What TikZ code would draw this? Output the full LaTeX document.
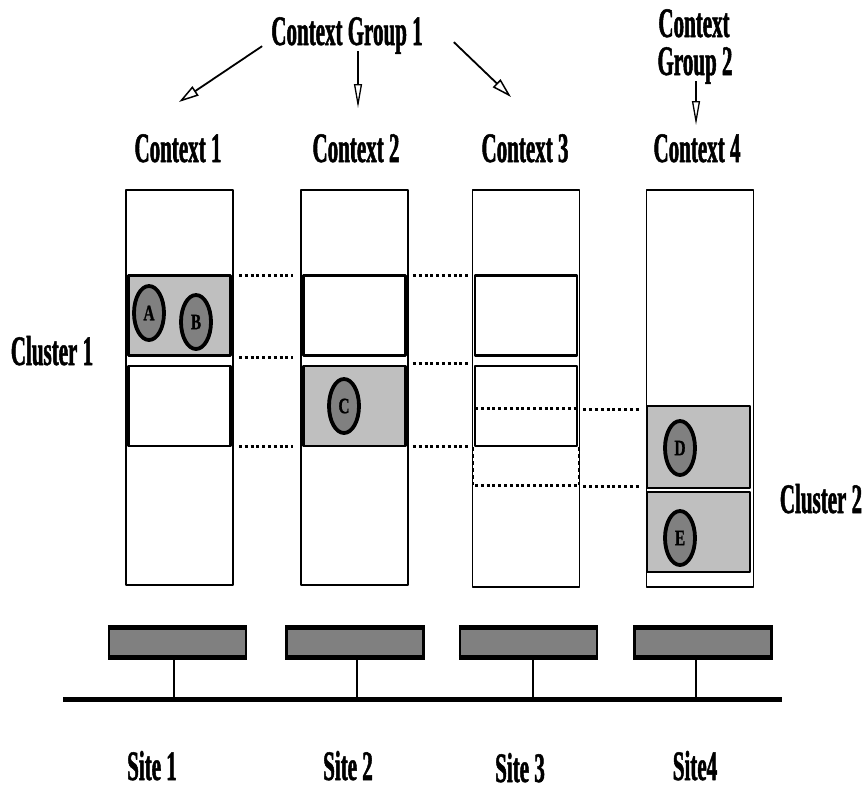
\documentclass[tikz,border=0pt]{standalone}
\usepackage{fontspec}
\newfontfamily\condfont{Liberation Serif}[FakeStretch=0.5,BoldFeatures={FakeBold=1.2}]
\newfontfamily\letfont{Liberation Serif}[FakeStretch=0.7,BoldFeatures={FakeBold=1}]
\usetikzlibrary{shapes.geometric,arrows.meta,calc,positioning}

\begin{document}
\begin{tikzpicture}[x=1pt,y=-1pt,line join=round,
  lbl/.style={font=\condfont\bfseries\fontsize{42}{42}\selectfont,inner sep=0pt,anchor=base},
  colbox/.style={draw,line width=1.8pt,minimum width=107pt,inner sep=0pt},
  cellbox/.style={draw,line width=2.5pt,minimum width=102pt,minimum height=80pt,inner sep=0pt},
  busy/.style={cellbox,fill=black!25},
  obj/.style={ellipse,draw,line width=3.8pt,fill=black!50,minimum width=30pt,minimum height=54pt,inner sep=0pt,font=\letfont\bfseries\fontsize{22}{22}\selectfont},
  sitebox/.style={draw,line width=2.5pt,fill=black!50,minimum width=137pt,minimum height=29pt,inner sep=0pt},
  link/.style={line width=3pt,dash pattern=on 3pt off 2.8pt},
  arr/.style={line width=1.8pt,-{Triangle[open,length=20pt,width=11pt,line width=1.5pt]}},
  varr/.style={line width=1.5pt,-{Triangle[open,length=24pt,width=8pt,line width=1.3pt]}}]
\useasboundingbox (0,0) rectangle (864,790);
% contexts
\foreach \n/\x/\h in {1/179.5/395,2/354.5/395,3/526/397,4/700/397}
  \node[colbox,minimum height=\h pt] (col\n) at (\x,{190+\h/2}) {};
\node[busy] (c1a) at (179.5,315.5) {};
\node[cellbox] (c1b) at (179.5,406) {};
\node[cellbox] (c2a) at (354.5,315.5) {};
\node[busy] (c2b) at (354.5,406) {};
\node[cellbox] (c3a) at (526,315.5) {};
\node[cellbox] (c3b) at (526,406) {};
\node[busy,minimum width=103pt,minimum height=82pt] (c4a) at (698.5,447) {};
\node[busy,minimum width=103pt] (c4b) at (698.5,532) {};
% replica in context 3
\draw[link] (475,408) -- (577,408) (475,485) -- (577,485);
\draw[line width=1.2pt,dash pattern=on 4pt off 3pt] (c3b.south west) -- (c3b.south west |- 0,485) (c3b.south east) -- (c3b.south east |- 0,485);
% objects
\node[obj] (objA) at (149,313) {A};
\node[obj] (objB) at (196,322) {B};
\node[obj] (objC) at (344,406) {C};
\node[obj] (objD) at (680,448) {D};
\node[obj] (objE) at (680,538) {E};
% dotted links
\foreach \y in {275,357,446}
  \draw[link] ($(col1.east |- 0,\y)+(5,0)$) -- ($(col2.west |- 0,\y)+(-7,0)$);
\foreach \y in {275,363,446}
  \draw[link] ($(col2.east |- 0,\y)+(4,0)$) -- ($(col3.west |- 0,\y)+(-4,0)$);
\foreach \y in {409,486}
  \draw[link] ($(col3.east |- 0,\y)+(3,0)$) -- ($(col4.west |- 0,\y)+(-7,0)$);
% sites and network
\coordinate (busL) at (63,699);
\coordinate (busR) at (782,699);
\draw[line width=5pt] (busL) -- (busR);
\foreach \n/\x/\s in {1/177.5/174,2/355/357,3/528.5/533,4/703/696}{
  \node[sitebox] (site\n) at (\x,642.5) {};
  \draw[line width=5pt] ([yshift=-1pt]site\n.north west) -- ([yshift=-1pt]site\n.north east)
    ([yshift=1pt]site\n.south west) -- ([yshift=1pt]site\n.south east);
  \draw[line width=2pt] (site\n.south -| \s,0) -- (busL -| \s,0);
}
% labels
\node[lbl] (grp1) at (347,45) {Context Group 1};
\node[lbl] (grp2a) at (694,37) {Context};
\node[lbl] (grp2b) at (695,75) {Group 2};
\node[lbl] (ctx1) at (178,162) {Context 1};
\node[lbl] (ctx2) at (356,162) {Context 2};
\node[lbl] (ctx3) at (525,162) {Context 3};
\node[lbl] (ctx4) at (697,162) {Context 4};
\node[lbl] (clu1) at (52,365) {Cluster 1};
\node[lbl] (clu2) at (821,513) {Cluster 2};
\node[lbl,text depth=0pt] (lsite1) at (152,780) {Site 1};
\node[lbl,text depth=0pt] (lsite2) at (348,780) {Site 2};
\node[lbl,text depth=0pt] (lsite3) at (520,782) {Site 3};
\node[lbl,text depth=0pt] (lsite4) at (695,780) {Site4};
% group arrows
\coordinate (tip1) at (179,102);
\coordinate (tip2) at (358,108);
\coordinate (tip3) at (511,97);
\coordinate (tip4) at (696,125);
\draw[arr] ($(grp1.south west)+(-9,-8)$) -- (tip1);
\draw[varr] ($(grp1.south)+(11,-3)$) -- (tip2);
\draw[arr] ($(grp1.south east)+(31,-12)$) -- (tip3);
\draw[varr] ($(grp2b.south)+(1,-3)$) -- (tip4);
\end{tikzpicture}
\end{document}
